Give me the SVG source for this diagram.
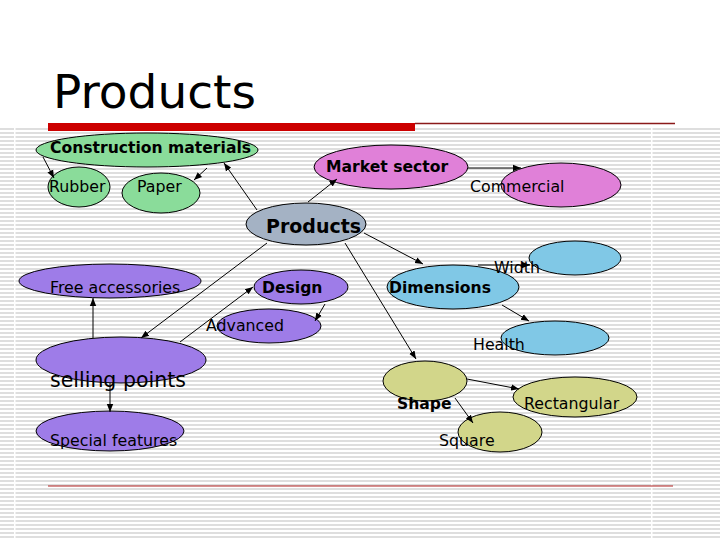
<svg xmlns="http://www.w3.org/2000/svg" width="720" height="540" viewBox="0 0 720 540">
<style>
.n{stroke:#000;stroke-width:1}
.t{font-family:"DejaVu Sans",Verdana,sans-serif;font-size:15.8px;fill:#000}
.b{font-weight:bold;font-size:15.6px}
.big{font-size:19px}
.sp{font-size:20.5px}
.c line{stroke:#000;stroke-width:1;marker-end:url(#ah)}
.g{fill:#8adc9a}.m{fill:#e080d8}.p{fill:#a4b2c4}.v{fill:#9e7ce8}.bl{fill:#80c8e6}.k{fill:#d2d68a}
</style>
<defs>
<pattern id="st" x="0" y="0" width="8" height="4" patternUnits="userSpaceOnUse">
<rect x="0" y="0" width="8" height="2" fill="#dedede"/>
</pattern>
<marker id="ah" viewBox="0 0 10 10" refX="10" refY="5" markerWidth="8" markerHeight="8" markerUnits="userSpaceOnUse" orient="auto">
<path d="M0,1 L10,5 L0,9 z" fill="#000"/>
</marker>
</defs>
<rect width="720" height="540" fill="#fff"/>
<rect x="0" y="128" width="720" height="412" fill="url(#st)"/>
<rect x="14" y="128" width="1.5" height="412" fill="#fff"/>
<rect x="651" y="128" width="1.5" height="412" fill="#fff"/>
<text x="53" y="108" font-family="DejaVu Sans,Verdana,sans-serif" font-size="47" fill="#000">Products</text>
<rect x="48" y="123" width="367" height="8" fill="#cc0000"/>
<line x1="415" y1="123.5" x2="675" y2="123.5" stroke="#8b1a1a" stroke-width="1.5"/>
<line x1="48" y1="486" x2="673" y2="486" stroke="#b22222" stroke-width="1.2"/>

<g id="n-construction"><ellipse class="n g" cx="147" cy="150" rx="111" ry="17"/><text class="t b" x="50" y="153">Construction materials</text></g>
<g id="n-rubber"><ellipse class="n g" cx="79" cy="187" rx="31" ry="20"/><text class="t" x="49" y="192">Rubber</text></g>
<g id="n-paper"><ellipse class="n g" cx="161" cy="193" rx="39" ry="20"/><text class="t" x="137" y="192">Paper</text></g>
<g id="n-market"><ellipse class="n m" cx="391" cy="167" rx="77" ry="22"/><text class="t b" x="326" y="172">Market sector</text></g>
<g id="n-commercial"><ellipse class="n m" cx="561" cy="185" rx="60" ry="22"/><text class="t" x="470" y="192">Commercial</text></g>
<g id="n-products"><ellipse class="n p" cx="306" cy="224" rx="60" ry="21"/><text class="t b big" x="266" y="233">Products</text></g>
<g id="n-free"><ellipse class="n v" cx="110" cy="281" rx="91" ry="17"/><text class="t" x="50" y="293">Free accessories</text></g>
<g id="n-design"><ellipse class="n v" cx="301" cy="287" rx="47" ry="17"/><text class="t b" x="262" y="293">Design</text></g>
<g id="n-advanced"><ellipse class="n v" cx="269" cy="326" rx="52" ry="17"/><text class="t" x="206" y="331">Advanced</text></g>
<g id="n-selling"><ellipse class="n v" cx="121" cy="360" rx="85" ry="23"/><text class="t sp" x="50" y="387">selling points</text></g>
<g id="n-special"><ellipse class="n v" cx="110" cy="431" rx="74" ry="20"/><text class="t" x="50" y="446">Special features</text></g>
<g id="n-dimensions"><ellipse class="n bl" cx="453" cy="287" rx="66" ry="22"/><text class="t b" x="389" y="293">Dimensions</text></g>
<g id="n-width"><ellipse class="n bl" cx="575" cy="258" rx="46" ry="17"/></g>
<g id="n-health"><ellipse class="n bl" cx="555" cy="338" rx="54" ry="17"/><text class="t" x="473" y="350">Health</text></g>
<g id="n-shape"><ellipse class="n k" cx="425" cy="381" rx="42" ry="20"/><text class="t b" x="397" y="409">Shape</text></g>
<g id="n-rect"><ellipse class="n k" cx="575" cy="397" rx="62" ry="20"/><text class="t" x="524" y="409">Rectangular</text></g>
<g id="n-square"><ellipse class="n k" cx="500" cy="432" rx="42" ry="20"/><text class="t" x="439" y="446">Square</text></g>

<g id="connectors" class="c">
<line x1="43" y1="157" x2="54" y2="178"/>
<line x1="207" y1="168" x2="194" y2="180"/>
<line x1="257" y1="210" x2="224" y2="163"/>
<line x1="308" y1="202" x2="337" y2="179"/>
<line x1="468" y1="168" x2="521" y2="168"/>
<line x1="267" y1="243" x2="141" y2="338"/>
<line x1="93" y1="338" x2="93" y2="298"/>
<line x1="180" y1="342" x2="253" y2="287"/>
<line x1="325" y1="304" x2="315" y2="321"/>
<line x1="110" y1="383" x2="110" y2="412"/>
<line x1="364" y1="233" x2="423" y2="264"/>
<line x1="478" y1="265" x2="530" y2="265"/>
<line x1="502" y1="305" x2="529" y2="321"/>
<line x1="345" y1="243" x2="416" y2="359"/>
<line x1="467" y1="379" x2="519" y2="389"/>
<line x1="455" y1="398" x2="473" y2="423"/>
</g>
<text class="t" x="494" y="273">Width</text>
</svg>
